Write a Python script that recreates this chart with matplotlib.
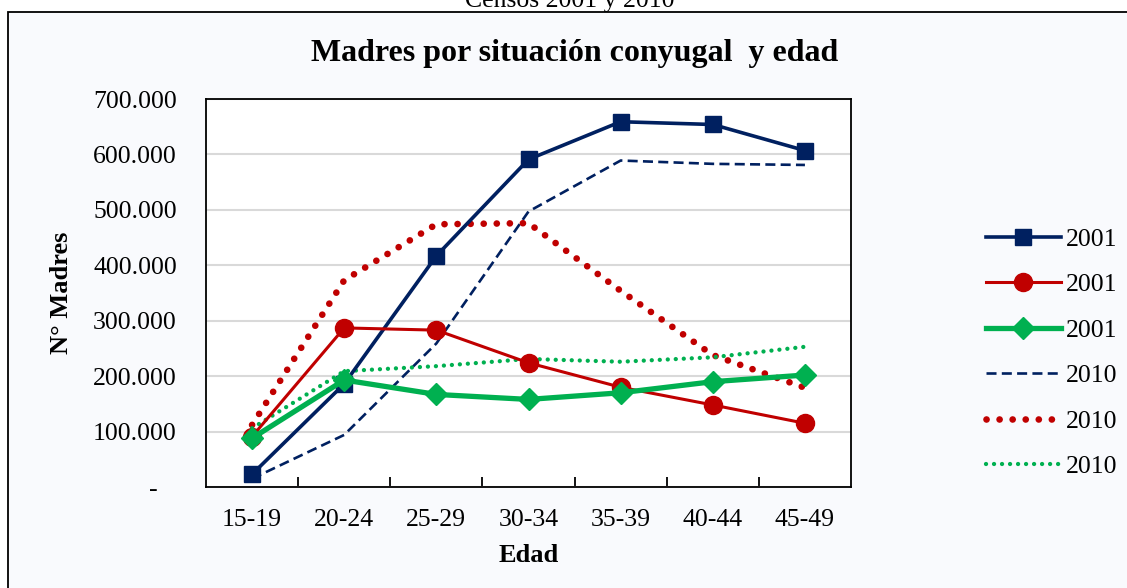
import matplotlib
matplotlib.use('Agg')
import matplotlib.pyplot as plt
from matplotlib.patches import Rectangle
from matplotlib.ticker import FuncFormatter, FixedLocator

plt.rcParams['font.family'] = ['Liberation Serif', 'DejaVu Serif']

# Datos
edades = ['15-19', '20-24', '25-29', '30-34', '35-39', '40-44', '45-49']
azul_2001 = [23000, 186000, 417000, 591000, 659000, 654000, 607000]
rojo_2001 = [91000, 287000, 283000, 224000, 180000, 148000, 115000]
verde_2001 = [88000, 193000, 167000, 158000, 170000, 190000, 202000]
azul_2010 = [15000, 94000, 259000, 497000, 589000, 583000, 581000]
rojo_2010 = [112000, 373000, 474000, 476000, 354000, 238000, 179000]
verde_2010 = [106000, 209000, 218000, 231000, 226000, 234000, 253000]
etiquetas = ['2001', '2001', '2001', '2010', '2010', '2010']

AZUL = '#002060'
ROJO = '#C00000'
VERDE = '#00B050'

fig = plt.figure(figsize=(11.27, 5.88), dpi=100)
fig.patch.set_facecolor('white')

# marco del grafico
marco = Rectangle((8 / 1127, -0.1), 1.2, 1.1 - 12 / 588,
                  transform=fig.transFigure, facecolor='#F9FAFD',
                  edgecolor='black', linewidth=1.3, zorder=-10)
fig.patches.append(marco)

ax = fig.add_axes([206 / 1127, 1 - 487 / 588, 645 / 1127, 388 / 588])
ax.set_facecolor('white')

x = list(range(len(edades)))

l4, = ax.plot(x, azul_2010, color=AZUL, lw=1.9, linestyle=(0, (3.8, 2.0)), zorder=3)
l5, = ax.plot(x, rojo_2010, color=ROJO, lw=4.8, linestyle=(0, (0.01, 1.95)),
              dash_capstyle='round', zorder=3)
l6, = ax.plot(x, verde_2010, color=VERDE, lw=3.1, linestyle=(0, (0.01, 1.85)),
              dash_capstyle='round', zorder=3)
l1, = ax.plot(x, azul_2001, color=AZUL, lw=2.6, marker='s', ms=11, zorder=4)
l2, = ax.plot(x, rojo_2001, color=ROJO, lw=2.2, marker='o', ms=13, zorder=4)
l3, = ax.plot(x, verde_2001, color=VERDE, lw=3.8, marker='D', ms=11, zorder=5)

ax.set_xlim(-0.5, len(edades) - 0.5)
ax.set_ylim(0, 700000)
ax.set_yticks(range(0, 700001, 100000))
ax.yaxis.set_major_formatter(FuncFormatter(
    lambda v, p: '-   ' if v == 0 else f'{int(v):,}'.replace(',', '.')))
ax.grid(axis='y', color='#D9D9D9', lw=1.5, zorder=1)
ax.set_axisbelow(True)

ax.set_xticks(x)
ax.set_xticklabels(edades)
ax.xaxis.set_minor_locator(FixedLocator([i + 0.5 for i in range(len(edades) - 1)]))
ax.tick_params(axis='x', which='major', length=0, pad=16, labelsize=18.5)
ax.tick_params(axis='x', which='minor', direction='in', length=7, width=1.3)
ax.tick_params(axis='y', length=0, pad=21, labelsize=18.5)
for s in ax.spines.values():
    s.set_linewidth(1.3)

fig.text(62 / 1127, 1 - 293 / 588, 'N° Madres', rotation=90, fontsize=19,
         fontweight='bold', ha='center', va='center')
fig.text(529 / 1127, 1 - 556 / 588, 'Edad', fontsize=19, fontweight='bold',
         ha='center', va='center')
fig.text(575 / 1127, 1 - 54 / 588, 'Madres por situación conyugal  y edad',
         fontsize=23, fontweight='bold', ha='center', va='center')
fig.text(570 / 1127, 1 - 7 / 588, 'Censos 2001 y 2010', fontsize=18.5,
         ha='center', va='baseline')

fig.legend([l1, l2, l3, l4, l5, l6], etiquetas, loc='center left',
           bbox_to_anchor=(986 / 1127, 1 - 353 / 588), frameon=False,
           fontsize=18.5, handlelength=2.9, handletextpad=0.2, labelspacing=0.88,
           borderpad=0, borderaxespad=0)

fig.savefig('out.png', dpi=100, facecolor=fig.get_facecolor())
